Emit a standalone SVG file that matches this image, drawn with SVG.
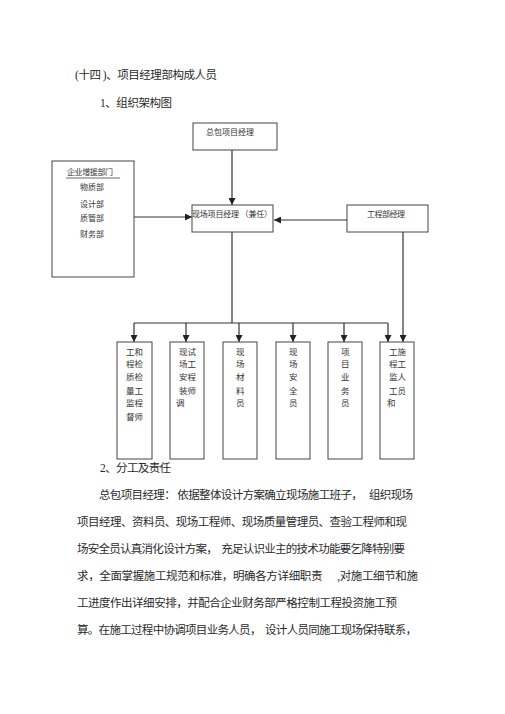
<svg xmlns="http://www.w3.org/2000/svg" width="505" height="714" viewBox="0 0 505 714">
<defs>
<marker id="ah" viewBox="0 0 8 8" refX="8" refY="4" markerWidth="7" markerHeight="7" markerUnits="userSpaceOnUse" orient="auto">
<path d="M0,0 L8,4 L0,8 z" fill="#222"/>
</marker>
<style>
text{font-family:"Liberation Serif","Noto Sans CJK SC",serif;fill:#2a2a2a}
.h{font-size:11.5px}
.p{font-size:11.5px}
.s{font-size:8px;fill:#333}
.b{font-size:8.5px;fill:#333}
.box{fill:#fff;stroke:#444;stroke-width:1}
.ln{fill:none;stroke:#333;stroke-width:1.2}
</style>
</defs>
<rect width="505" height="714" fill="#fff"/>
<text class="h" x="75" y="79" textLength="142" xml:space="preserve">(十四 )、项目经理部构成人员</text>
<text class="h" x="100" y="107" textLength="72">1、组织架构图</text>

<g id="connectors">
<path class="ln" d="M232,150 V205" marker-end="url(#ah)"/>
<path class="ln" d="M134,217 H192" marker-end="url(#ah)"/>
<path class="ln" d="M347,220 H274" marker-end="url(#ah)"/>
<path class="ln" d="M232,232 V323"/>
<path class="ln" d="M134,323 H388"/>
<path class="ln" d="M134,323 V342" marker-end="url(#ah)"/>
<path class="ln" d="M186,323 V342" marker-end="url(#ah)"/>
<path class="ln" d="M239,323 V342" marker-end="url(#ah)"/>
<path class="ln" d="M293,323 V342" marker-end="url(#ah)"/>
<path class="ln" d="M344,323 V342" marker-end="url(#ah)"/>
<path class="ln" d="M388,323 V342" marker-end="url(#ah)"/>
<path class="ln" d="M403,232 V342" marker-end="url(#ah)"/>
</g>

<g id="n-top">
<rect class="box" x="193" y="123" width="84" height="27"/>
<text class="s" x="206" y="135" textLength="48">总包项目经理</text>
</g>
<g id="n-left">
<rect class="box" x="52" y="161" width="82" height="116"/>
<text class="s" x="67" y="175" textLength="46">企业增援部门</text>
<line x1="66" y1="178" x2="120" y2="178" stroke="#444" stroke-width="0.8"/>
<text class="s" x="80" y="190">物质部</text>
<text class="s" x="80" y="207">设计部</text>
<text class="s" x="80" y="221">质管部</text>
<text class="s" x="80" y="237">财务部</text>
</g>
<g id="n-mid">
<rect class="box" x="192" y="205" width="81" height="27"/>
<text class="s" x="192" y="217" textLength="80">现场项目经理 （兼任）</text>
</g>
<g id="n-right">
<rect class="box" x="347" y="205" width="81" height="27"/>
<text class="s" x="367" y="217" textLength="38">工程部经理</text>
</g>

<g id="n-b1">
<rect class="box" x="117" y="342" width="35" height="117"/>
<text class="b" x="126" y="355">工和</text>
<text class="b" x="126" y="367">程检</text>
<text class="b" x="126" y="380">质检</text>
<text class="b" x="126" y="394">量工</text>
<text class="b" x="126" y="406">监程</text>
<text class="b" x="126" y="420">督师</text>
</g>
<g id="n-b2">
<rect class="box" x="170" y="342" width="34" height="117"/>
<text class="b" x="179" y="355">现试</text>
<text class="b" x="179" y="367">场工</text>
<text class="b" x="179" y="380">安程</text>
<text class="b" x="179" y="394">装师</text>
<text class="b" x="176" y="406">调</text>
</g>
<g id="n-b3">
<rect class="box" x="223" y="342" width="34" height="117"/>
<text class="b" x="236" y="355">现</text>
<text class="b" x="236" y="367">场</text>
<text class="b" x="236" y="380">材</text>
<text class="b" x="236" y="394">料</text>
<text class="b" x="236" y="406">员</text>
</g>
<g id="n-b4">
<rect class="box" x="276" y="342" width="34" height="117"/>
<text class="b" x="289" y="355">现</text>
<text class="b" x="289" y="367">场</text>
<text class="b" x="289" y="380">安</text>
<text class="b" x="289" y="394">全</text>
<text class="b" x="289" y="406">员</text>
</g>
<g id="n-b5">
<rect class="box" x="328" y="342" width="34" height="117"/>
<text class="b" x="341" y="355">项</text>
<text class="b" x="341" y="367">目</text>
<text class="b" x="341" y="380">业</text>
<text class="b" x="341" y="394">务</text>
<text class="b" x="341" y="406">员</text>
</g>
<g id="n-b6">
<rect class="box" x="380" y="342" width="34" height="117"/>
<text class="b" x="389" y="355">工施</text>
<text class="b" x="389" y="367">程工</text>
<text class="b" x="389" y="380">监人</text>
<text class="b" x="389" y="394">工员</text>
<text class="b" x="387" y="406">和</text>
</g>

<text class="h" x="100" y="472" textLength="71">2、分工及责任</text>
<text class="p" x="99" y="499" textLength="314" xml:space="preserve">总包项目经理： 依据整体设计方案确立现场施工班子，   组织现场</text>
<text class="p" x="77" y="526" textLength="330">项目经理、资料员、现场工程师、现场质量管理员、查验工程师和现</text>
<text class="p" x="77" y="553" textLength="328" xml:space="preserve">场安全员认真消化设计方案，  充足认识业主的技术功能要乞降特别要</text>
<text class="p" x="77" y="580" textLength="341" xml:space="preserve">求，全面掌握施工规范和标准，明确各方详细职责      ,对施工细节和施</text>
<text class="p" x="77" y="607" textLength="320">工进度作出详细安排，并配合企业财务部严格控制工程投资施工预</text>
<text class="p" x="77" y="634" textLength="340" xml:space="preserve">算。在施工过程中协调项目业务人员，  设计人员同施工现场保持联系，</text>
</svg>
